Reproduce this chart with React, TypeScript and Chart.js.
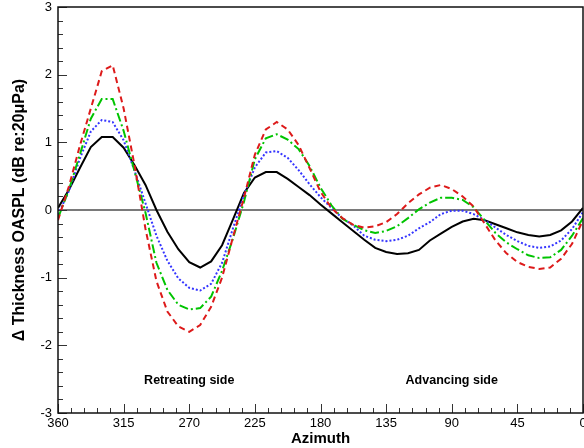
import { useEffect, useRef } from "react";
import { Chart, registerables } from "chart.js";

Chart.register(...registerables);

// Azimuth stations (degrees), plotted right-to-left from 360 to 0
const azimuth = [
  360, 352.5, 345, 337.5, 330, 322.5, 315, 307.5, 300, 292.5, 285, 277.5, 270,
  262.5, 255, 247.5, 240, 232.5, 225, 217.5, 210, 202.5, 195, 187.5, 180,
  172.5, 165, 157.5, 150, 142.5, 135, 127.5, 120, 112.5, 105, 97.5, 90, 82.5,
  75, 67.5, 60, 52.5, 45, 37.5, 30, 22.5, 15, 7.5, 0,
];

// Δ thickness OASPL (dB) for each case
const caseRed = [
  -0.15, 0.35, 0.95, 1.5, 2.05, 2.14, 1.5, 0.66, -0.28, -1.05, -1.5, -1.72,
  -1.8, -1.7, -1.43, -1.0, -0.4, 0.18, 0.82, 1.19, 1.3, 1.19, 0.96, 0.62, 0.27,
  0.03, -0.12, -0.22, -0.26, -0.24, -0.18, -0.06, 0.1, 0.23, 0.33, 0.37, 0.31,
  0.2, 0.05, -0.2, -0.45, -0.64, -0.77, -0.84, -0.87, -0.85, -0.72, -0.5, -0.15,
];

const caseGreen = [
  -0.12, 0.3, 0.82, 1.35, 1.64, 1.64, 1.17, 0.57, -0.04, -0.78, -1.18, -1.4,
  -1.47, -1.45, -1.28, -0.9, -0.42, 0.12, 0.75, 1.06, 1.12, 1.04, 0.9, 0.65,
  0.33, 0.07, -0.13, -0.22, -0.3, -0.34, -0.31, -0.24, -0.12, 0.01, 0.11, 0.18,
  0.18, 0.15, 0.04, -0.15, -0.34, -0.48, -0.58, -0.67, -0.71, -0.7, -0.59,
  -0.38, -0.12,
];

const caseBlue = [
  -0.07, 0.28, 0.76, 1.16, 1.33, 1.3, 1.03, 0.58, 0.1, -0.38, -0.75, -1.01,
  -1.15, -1.19, -1.09, -0.78, -0.27, 0.22, 0.63, 0.85, 0.87, 0.77, 0.59, 0.38,
  0.19, 0.03, -0.12, -0.23, -0.38, -0.44, -0.46, -0.44, -0.38, -0.27, -0.18,
  -0.06, -0.01, -0.01, -0.06, -0.15, -0.26, -0.37, -0.46, -0.53, -0.56, -0.54,
  -0.45, -0.28, -0.03,
];

const caseBlack = [
  0.03, 0.3, 0.62, 0.93, 1.08, 1.08, 0.92, 0.66, 0.37, 0.0, -0.32, -0.58,
  -0.77, -0.85, -0.76, -0.52, -0.14, 0.25, 0.48, 0.56, 0.56, 0.46, 0.34, 0.22,
  0.08, -0.05, -0.18, -0.31, -0.44, -0.56, -0.62, -0.65, -0.64, -0.59, -0.45,
  -0.35, -0.25, -0.17, -0.13, -0.15, -0.21, -0.27, -0.33, -0.37, -0.39, -0.37,
  -0.3, -0.17, 0.03,
];

const xTickValues = [360, 315, 270, 225, 180, 135, 90, 45, 0];
const yTickValues = [-3, -2, -1, 0, 1, 2, 3];

const sideLabels = [
  { text: "Retreating side", azimuth: 270, value: -2.52 },
  { text: "Advancing side", azimuth: 90, value: -2.52 },
];

const FONT = "'Liberation Sans', Arial, Helvetica, sans-serif";

const toPoints = (vals: number[]) =>
  azimuth.map((a, i) => ({ x: a, y: vals[i] }));

// Frame, inward major/minor ticks, side annotations and axis titles
const framePlugin = {
  id: "frame",
  afterDatasetsDraw(chart: any) {
    const { ctx, chartArea, scales } = chart;
    const xs = scales.x;
    const ys = scales.y;
    const { left, right, top, bottom } = chartArea;
    ctx.save();

    // ticks
    ctx.strokeStyle = "#333";
    ctx.lineWidth = 1;
    ctx.beginPath();
    for (let k = 0; k <= 40; k++) {
      const v = k * 9;
      const px = Math.round(xs.getPixelForValue(v)) + 0.5;
      const len = k % 5 === 0 ? 9 : 5;
      ctx.moveTo(px, bottom);
      ctx.lineTo(px, bottom - len);
    }
    for (let k = 0; k <= 30; k++) {
      const v = -3 + k * 0.2;
      const py = Math.round(ys.getPixelForValue(v)) + 0.5;
      const len = k % 5 === 0 ? 9 : 5;
      ctx.moveTo(left, py);
      ctx.lineTo(left + len, py);
    }
    ctx.stroke();

    // frame
    ctx.strokeStyle = "#111";
    ctx.lineWidth = 1.5;
    ctx.strokeRect(left, top, right - left, bottom - top);

    // side annotations
    ctx.fillStyle = "#000";
    ctx.font = `bold 12.5px ${FONT}`;
    ctx.textAlign = "center";
    ctx.textBaseline = "middle";
    for (const s of sideLabels) {
      ctx.fillText(s.text, xs.getPixelForValue(s.azimuth), ys.getPixelForValue(s.value));
    }

    // axis titles
    ctx.font = `bold 15px ${FONT}`;
    ctx.textBaseline = "alphabetic";
    ctx.fillText("Azimuth", (left + right) / 2, 443);
    ctx.translate(24, (top + bottom) / 2);
    ctx.rotate(-Math.PI / 2);
    ctx.font = `bold 16px ${FONT}`;
    ctx.fillText("\u0394 Thickness OASPL (dB re:20\u03bcPa)", 0, 0);
    ctx.restore();
  },
};

export default function App() {
  const canvasRef = useRef<HTMLCanvasElement | null>(null);

  useEffect(() => {
    const canvas = canvasRef.current;
    if (!canvas) return;
    const chart = new Chart(canvas, {
      type: "line",
      data: {
        datasets: [
          {
            label: "Case A",
            data: toPoints(caseRed),
            borderColor: "#dd1a1a",
            borderWidth: 2,
            borderDash: [6, 4],
          },
          {
            label: "Case B",
            data: toPoints(caseGreen),
            borderColor: "#00c400",
            borderWidth: 2,
            borderDash: [9, 3, 2, 3],
          },
          {
            label: "Case C",
            data: toPoints(caseBlue),
            borderColor: "#3535ff",
            borderWidth: 2,
            borderDash: [2, 2],
          },
          {
            label: "Case D",
            data: toPoints(caseBlack),
            borderColor: "#000000",
            borderWidth: 2,
          },
        ],
      },
      options: {
        responsive: false,
        animation: false,
        devicePixelRatio: 1,
        parsing: false as any,
        layout: { padding: { top: 7, right: 1, left: 0, bottom: 0 } },
        elements: {
          point: { radius: 0, hoverRadius: 0 },
          line: { tension: 0, fill: false },
        },
        plugins: {
          legend: { display: false },
          tooltip: { enabled: false },
        },
        scales: {
          x: {
            type: "linear",
            reverse: true,
            min: 0,
            max: 360,
            afterBuildTicks: (s: any) => {
              s.ticks = xTickValues.map((v) => ({ value: v }));
            },
            afterFit: (s: any) => {
              s.height = 35;
              s.paddingLeft = 0;
              s.paddingRight = 0;
            },
            grid: { display: false, drawTicks: false },
            border: { display: false },
            ticks: {
              autoSkip: false,
              maxRotation: 0,
              padding: 3,
              color: "#000",
              font: { family: FONT, size: 13 },
            },
          },
          y: {
            type: "linear",
            min: -3,
            max: 3,
            afterBuildTicks: (s: any) => {
              s.ticks = yTickValues.map((v) => ({ value: v }));
            },
            afterFit: (s: any) => {
              s.width = 58;
              s.paddingTop = 0;
              s.paddingBottom = 0;
            },
            grid: {
              drawTicks: false,
              color: (c: any) => (c.tick && c.tick.value === 0 ? "#7a7a7a" : "rgba(0,0,0,0)"),
              lineWidth: 2,
            },
            border: { display: false },
            ticks: {
              autoSkip: false,
              padding: 6,
              color: "#000",
              font: { family: FONT, size: 13 },
            },
          },
        },
      },
      plugins: [framePlugin],
    });
    return () => chart.destroy();
  }, []);

  return (
    <div style={{ position: "absolute", left: 0, top: 0, width: 584, height: 448, background: "#fff" }}>
      <canvas ref={canvasRef} width={584} height={448} style={{ display: "block" }} />
    </div>
  );
}
